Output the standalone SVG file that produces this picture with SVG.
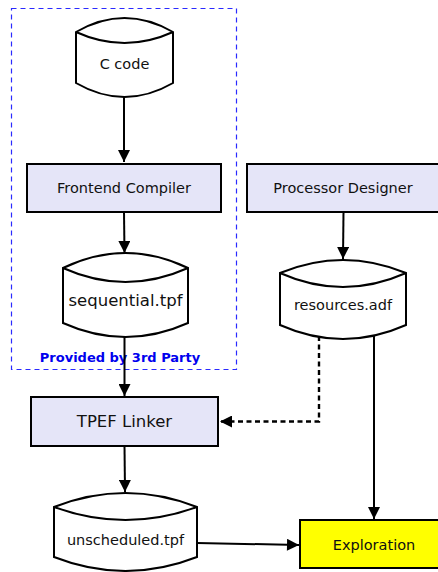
<svg xmlns="http://www.w3.org/2000/svg" width="438" height="572" viewBox="0 0 438 572">
<style>
.box{fill:#e5e5f8;stroke:#000;stroke-width:2}
.cyl{fill:#fff;stroke:#000;stroke-width:2}
.t{font-family:"DejaVu Sans",sans-serif;font-size:14.5px;fill:#111;text-anchor:middle}
.big{font-size:16.5px}
.edge{fill:none;stroke:#000;stroke-width:2}
.dash{stroke-width:2.4;stroke-dasharray:5,3.5}
</style>
<defs>
<marker id="ah" viewBox="0 0 10 10" refX="10" refY="5" markerWidth="6.5" markerHeight="6" orient="auto" markerUnits="userSpaceOnUse">
<path d="M0,0 L10,5 L0,10 z" fill="#000"/>
</marker>
<marker id="ahs" viewBox="0 0 10 10" refX="10" refY="5" markerWidth="13" markerHeight="12" orient="auto" markerUnits="userSpaceOnUse">
<path d="M0,0 L10,5 L0,10 z" fill="#000"/>
</marker>
</defs>
<g id="thirdparty">
<rect x="11.5" y="8.5" width="225" height="361" fill="none" stroke="#2a2aff" stroke-width="1.2" stroke-dasharray="5,4"/>
<text x="120" y="362" font-family="DejaVu Sans,sans-serif" font-size="13px" font-weight="bold" fill="#0000ee" text-anchor="middle">Provided by 3rd Party</text>
</g>
<g id="edges">
<path class="edge" d="M124,97 L124,162" marker-end="url(#ahs)"/>
<path class="edge" d="M124,212 L124.5,253" marker-end="url(#ahs)"/>
<path class="edge" d="M124.5,337 L124.5,396" marker-end="url(#ahs)"/>
<path class="edge" d="M124.5,446 L125,492" marker-end="url(#ahs)"/>
<path class="edge" d="M343.5,212 L343,259" marker-end="url(#ahs)"/>
<path class="edge" d="M374,336 L374,519" marker-end="url(#ahs)"/>
<path class="edge" d="M197,543 L299,545" marker-end="url(#ahs)"/>
<path class="edge dash" d="M319,336 L319,421.5 L220,421.5" marker-end="url(#ahs)"/>
</g>
<g id="ccode">
<path class="cyl" d="M76,32 Q124.5,4 173,32 L173,83 Q124.5,111 76,83 Z M76,32 Q124.5,54 173,32"/>
<text class="t" x="124.5" y="69">C code</text>
</g>
<g id="frontend">
<rect class="box" x="27" y="164" width="194" height="48"/>
<text class="t" x="124" y="193">Frontend Compiler</text>
</g>
<g id="sequential">
<path class="cyl" d="M63,268 Q125.5,238 188,268 L188,323 Q125.5,351 63,323 Z M63,268 Q125.5,296 188,268"/>
<text class="t big" x="125.5" y="306">sequential.tpf</text>
</g>
<g id="processor">
<rect class="box" x="247" y="164" width="192" height="48"/>
<text class="t" x="343" y="193">Processor Designer</text>
</g>
<g id="resources">
<path class="cyl" d="M280,273 Q343,247 406,273 L406,325 Q343,353 280,325 Z M280,273 Q343,301 406,273"/>
<text class="t" x="343" y="310">resources.adf</text>
</g>
<g id="linker">
<rect class="box" x="31" y="397" width="187" height="49"/>
<text class="t big" x="124.5" y="427">TPEF Linker</text>
</g>
<g id="unscheduled">
<path class="cyl" d="M54,507 Q125.5,479 197,507 L197,557 Q125.5,585 54,557 Z M54,507 Q125.5,533 197,507"/>
<text class="t" x="125.5" y="545">unscheduled.tpf</text>
</g>
<g id="exploration">
<rect x="300" y="520" width="148" height="48" fill="#ffff00" stroke="#000" stroke-width="2"/>
<text class="t" x="374" y="550">Exploration</text>
</g>
</svg>
